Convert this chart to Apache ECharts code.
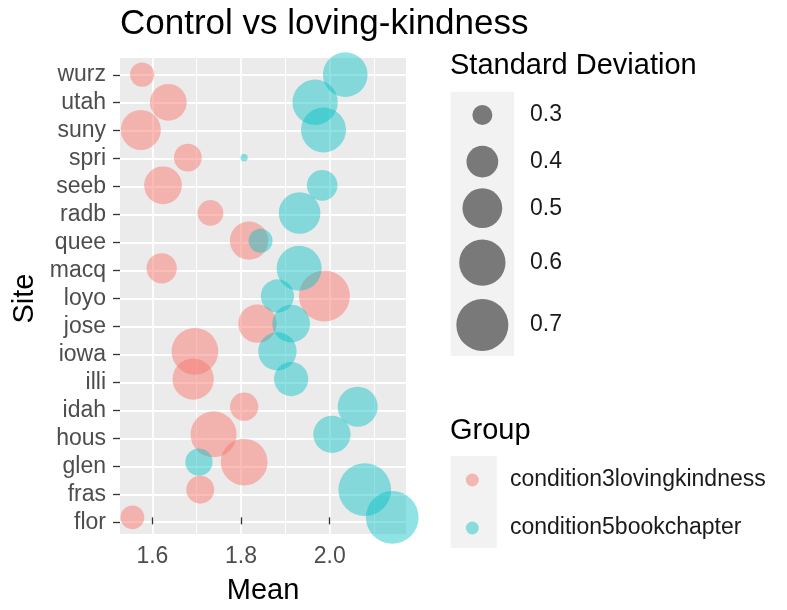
<!DOCTYPE html>
<html><head><meta charset="utf-8">
<script src="https://cdn.jsdelivr.net/npm/echarts@6/dist/echarts.min.js"></script>
<style>html,body{margin:0;padding:0;background:#fff}#c{width:787px;height:610px}</style>
</head><body><div id="c"></div>
<script>
// ---- data ----
const sites = ['flor','fras','glen','hous','idah','illi','iowa','jose','loyo','macq','quee','radb','seeb','spri','suny','utah','wurz'];
const lkMean = [1.555,1.708,1.807,1.738,1.807,1.692,1.696,1.837,1.988,1.621,1.818,1.731,1.624,1.680,1.574,1.636,1.577];
const lkSD   = [0.326,0.362,0.606,0.594,0.365,0.521,0.606,0.480,0.681,0.385,0.480,0.342,0.472,0.360,0.503,0.459,0.330];
const bcMean = [2.141,2.079,1.705,2.005,2.063,1.913,1.882,1.913,1.882,1.931,1.844,1.932,1.983,1.807,1.986,1.967,2.035];
const bcSD   = [0.711,0.713,0.356,0.466,0.503,0.429,0.480,0.472,0.417,0.578,0.328,0.527,0.389,0.252,0.578,0.583,0.573];
const groupNames = ['condition3lovingkindness','condition5bookchapter'];
const xTicks = [1.6, 1.8, 2.0];
const sdLegendValues = [0.3, 0.4, 0.5, 0.6, 0.7];

// ---- styling / layout ----
const FONT = '"Liberation Sans", Arial, Helvetica, sans-serif';
const pinkA = 'rgba(248,118,109,0.6)';
const tealA = 'rgba(0,191,196,0.55)';
const SD_MIN = 0.25;
function sizeOf(sd){ return 4 + 71.6*Math.sqrt(Math.max(0, sd - SD_MIN)); }

const P = {left:120, top:58, width:286, height:481};
const rowH = P.height / (sites.length - 1 + 1.2);
const X_MIN = 1.527, X_MAX = 2.172;

const chart = echarts.init(document.getElementById('c'), null, {renderer:'canvas'});

function mk(mean, sd){ return sites.map((s,i)=>[mean[i], i, sd[i], s]); }

// size legend graphics
const keyX = 450.7, keyY = 91.7, keyW = 63.3;
const keyHeights = [46.6,46.6,46.6,62.3,62.3];
const gfx = [];
let totalH = keyHeights.reduce((a,b)=>a+b,0);
gfx.push({type:'rect', shape:{x:keyX, y:keyY, width:keyW, height:totalH}, style:{fill:'#F2F2F2'}, z:0});
let cy = keyY;
sdLegendValues.forEach((v,i)=>{
  const c = cy + keyHeights[i]/2;
  gfx.push({type:'circle', shape:{cx:keyX+keyW/2, cy:c, r:sizeOf(v)/2}, style:{fill:'rgba(0,0,0,0.5)'}, z:1});
  gfx.push({type:'text', x:530, y:c, style:{text:v.toFixed(1), font:'23px '+FONT, fill:'#1A1A1A', textVerticalAlign:'middle'}, z:1});
  cy += keyHeights[i];
});
gfx.push({type:'text', x:450, y:66, style:{text:'Standard Deviation', font:'29px '+FONT, fill:'#000', textVerticalAlign:'middle'}});
gfx.push({type:'text', x:450, y:431, style:{text:'Group', font:'29px '+FONT, fill:'#000', textVerticalAlign:'middle'}});
gfx.push({type:'rect', shape:{x:450.7, y:456, width:46, height:92}, style:{fill:'#F2F2F2'}, z:0});

const option = {
  animation:false,
  backgroundColor:'#fff',
  textStyle:{fontFamily:FONT},
  title:{text:'Control vs loving-kindness', left:120, top:7, padding:0,
    textStyle:{fontSize:35, fontWeight:'normal', color:'#000', lineHeight:35, fontFamily:FONT}},
  grid:[
    {left:P.left, top:P.top, width:P.width, height:P.height, show:true, backgroundColor:'#EBEBEB', borderWidth:0, z:-1},
    {left:P.left, top:P.top+0.6*rowH, width:P.width, height:(sites.length-1)*rowH, show:false}
  ],
  xAxis:[
    {gridIndex:0, type:'value', min:X_MIN, max:X_MAX, splitNumber:3,
     axisLine:{show:false},
     axisTick:{show:true, customValues:xTicks, length:7, lineStyle:{color:'#333', width:1.3}},
     axisLabel:{customValues:xTicks, formatter:v=>Number(v).toFixed(1), fontSize:23, lineHeight:23, color:'#4D4D4D', margin:11, fontFamily:FONT},
     splitLine:{show:true, lineStyle:{color:'#fff', width:1.8}},
     minorTick:{show:false, splitNumber:2},
     minorSplitLine:{show:true, lineStyle:{color:'#fff', width:0.9}},
     name:'Mean', nameLocation:'middle', nameGap:42, nameTextStyle:{fontSize:29, color:'#000', lineHeight:29, fontFamily:FONT}},
    {gridIndex:1, type:'value', min:X_MIN, max:X_MAX, show:false}
  ],
  yAxis:[
    {gridIndex:0, type:'value', min:-0.6, max:sites.length-1+0.6, show:false},
    {gridIndex:1, type:'category', data:sites, boundaryGap:false,
     axisLine:{show:false},
     axisTick:{show:true, length:7, lineStyle:{color:'#333', width:1.3}},
     axisLabel:{interval:0, fontSize:23, color:'#4D4D4D', margin:14, fontFamily:FONT},
     splitLine:{show:true, interval:0, lineStyle:{color:'#fff', width:1.8}},
     name:'Site', nameLocation:'middle', nameGap:81, nameTextStyle:{fontSize:29, color:'#000', lineHeight:29, fontFamily:FONT}}
  ],
  legend:{orient:'vertical', left:465.8, top:468.5, padding:0, itemWidth:65.4, itemHeight:13, itemGap:25,
    icon:'circle', selectedMode:false,
    textStyle:{fontSize:23, lineHeight:23, color:'#1A1A1A', fontFamily:FONT},
    data:[{name:groupNames[0], itemStyle:{color:pinkA}}, {name:groupNames[1], itemStyle:{color:tealA}}]},
  series:[
    {name:groupNames[0], type:'scatter', xAxisIndex:0, yAxisIndex:0, clip:true,
     data:mk(lkMean, lkSD), symbolSize:v=>sizeOf(v[2]), itemStyle:{color:pinkA}},
    {name:groupNames[1], type:'scatter', xAxisIndex:0, yAxisIndex:0, clip:true,
     data:mk(bcMean, bcSD), symbolSize:v=>sizeOf(v[2]), itemStyle:{color:tealA}}
  ],
  graphic:gfx
};
chart.setOption(option);
</script></body></html>
